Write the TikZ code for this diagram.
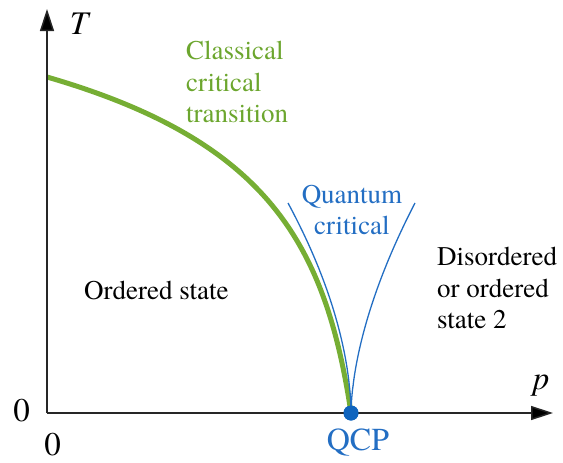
\documentclass[tikz,border=0pt]{standalone}
\usepackage{fontspec}
\setmainfont{texgyretermes}[Extension=.otf, UprightFont=*-regular, ItalicFont=*-italic, BoldFont=*-bold, BoldItalicFont=*-bolditalic]
\usetikzlibrary{arrows.meta}
\definecolor{cgreen}{RGB}{118,174,52}
\definecolor{cgreentext}{RGB}{108,166,46}
\definecolor{cblue}{RGB}{35,110,195}
\definecolor{cdot}{RGB}{15,100,190}
\begin{document}
\begin{tikzpicture}[x=1pt,y=-1pt,
  axis/.style={line width=1.5pt, draw=black!85, -{Triangle[length=22pt,width=14pt,fill=black]}},
  lbl/.style={font=\fontsize{27}{31.5}\selectfont, inner sep=0pt},
  biglbl/.style={font=\fontsize{33}{38}\selectfont, inner sep=0pt},
  varlbl/.style={font=\fontsize{33}{38}\selectfont\itshape, inner sep=0pt},
  classical/.style={line width=5pt, draw=cgreen},
  quantum/.style={line width=1.3pt, draw=cblue},
  dotnode/.style={circle, fill=cdot, minimum size=15pt, inner sep=0pt}]
\useasboundingbox (0,0) rectangle (563,463);
\coordinate (O) at (47,413);
\coordinate (ytop) at (47,9);
\coordinate (xend) at (553,413);
\coordinate (gstart) at (47,77);
\node[dotnode] (qcp) at (351,413) {};
\draw[classical] (gstart) .. controls (267,140.8) and (325.5,243) .. (qcp.center);
\draw[quantum] plot[domain=1:0, samples=80, variable=\t] ({351-63*\t^1.8}, {413-210*\t}) -- (qcp.center);
\draw[quantum] plot[domain=1:0, samples=80, variable=\t] ({351+64*\t^1.7}, {413-210*\t}) -- (qcp.center);
\draw[axis] (O) -- (ytop);
\draw[axis] (O) -- (xend);
\node[dotnode] at (qcp) {};
\node[varlbl] (T) at (79,23.5) {T};
\node[varlbl] (p) at (541,386) {p};
\node[biglbl] (zy) at (21.7,410.5) {0};
\node[biglbl] (zx) at (52.5,444.5) {0};
\node[font=\fontsize{32}{38}\selectfont, inner sep=0pt, text=cblue] (qcplbl) at (358,443) {QCP};
\node[lbl, text=cgreentext, align=left, anchor=west] (cct) at (186,82) {Classical\\critical\\transition};
\node[lbl, text=cblue, align=center] (qc) at (352,210) {Quantum\\critical};
\node[lbl, anchor=west] (ord) at (84,290) {Ordered state};
\node[lbl, align=left, anchor=west] (dis) at (437,288) {Disordered\\or ordered\\state 2};
\end{tikzpicture}
\end{document}
